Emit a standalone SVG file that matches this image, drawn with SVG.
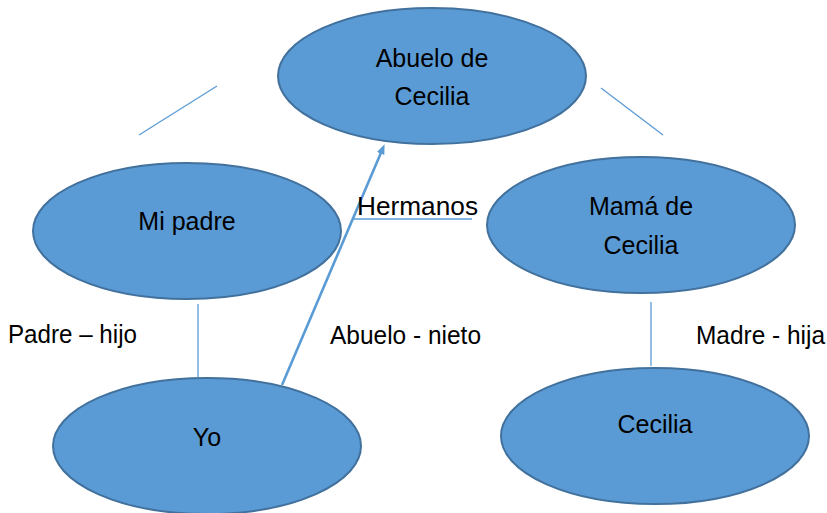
<svg xmlns="http://www.w3.org/2000/svg" width="827" height="513" viewBox="0 0 827 513">
<style>
.node{fill:#5b9bd5;stroke:#41719c;stroke-width:2}
.t{font-family:"Liberation Sans",Arial,sans-serif;font-size:25px;fill:#000}
.c{text-anchor:middle}
.thin{stroke:#5b9bd5;stroke-width:1.3;fill:none}
.thick{stroke:#5b9bd5;stroke-width:2.6;fill:none}
</style>
<defs>
<marker id="ah" markerWidth="10" markerHeight="10" refX="6" refY="4" orient="auto" markerUnits="userSpaceOnUse" viewBox="0 0 10 8">
<path d="M0,0 L10,4 L0,8 z" fill="#5b9bd5"/>
</marker>
</defs>
<rect width="827" height="513" fill="#fff"/>
<g id="connectors">
<line class="thin" x1="139" y1="135" x2="217" y2="86"/>
<line class="thin" x1="601" y1="88" x2="663" y2="135"/>
<line class="thin" x1="354" y1="219" x2="472" y2="219"/>
<line class="thin" x1="198" y1="304" x2="198" y2="377"/>
<line class="thin" x1="651" y1="302" x2="651" y2="366"/>
<line class="thick" x1="282" y1="385" x2="383" y2="148" marker-end="url(#ah)"/>
</g>
<g id="abuelo">
<ellipse class="node" cx="432" cy="76" rx="154" ry="68"/>
<text class="t c" x="432" y="67">Abuelo de</text>
<text class="t c" x="432" y="105">Cecilia</text>
</g>
<g id="mi-padre">
<ellipse class="node" cx="187" cy="231" rx="154" ry="68"/>
<text class="t c" x="187" y="230">Mi padre</text>
</g>
<g id="mama">
<ellipse class="node" cx="641" cy="225" rx="154" ry="68"/>
<text class="t c" x="641" y="215">Mamá de</text>
<text class="t c" x="641" y="254">Cecilia</text>
</g>
<g id="yo">
<ellipse class="node" cx="207" cy="446" rx="154" ry="68"/>
<text class="t c" x="207" y="446">Yo</text>
</g>
<g id="cecilia">
<ellipse class="node" cx="655" cy="436" rx="154" ry="68"/>
<text class="t c" x="655" y="433">Cecilia</text>
</g>
<g id="labels">
<text class="t" x="357" y="215" textLength="121" lengthAdjust="spacingAndGlyphs">Hermanos</text>
<text class="t" x="8" y="343" textLength="129" lengthAdjust="spacingAndGlyphs">Padre – hijo</text>
<text class="t" x="330" y="344" textLength="151" lengthAdjust="spacingAndGlyphs">Abuelo - nieto</text>
<text class="t" x="696" y="344" textLength="129" lengthAdjust="spacingAndGlyphs">Madre - hija</text>
</g>
</svg>
